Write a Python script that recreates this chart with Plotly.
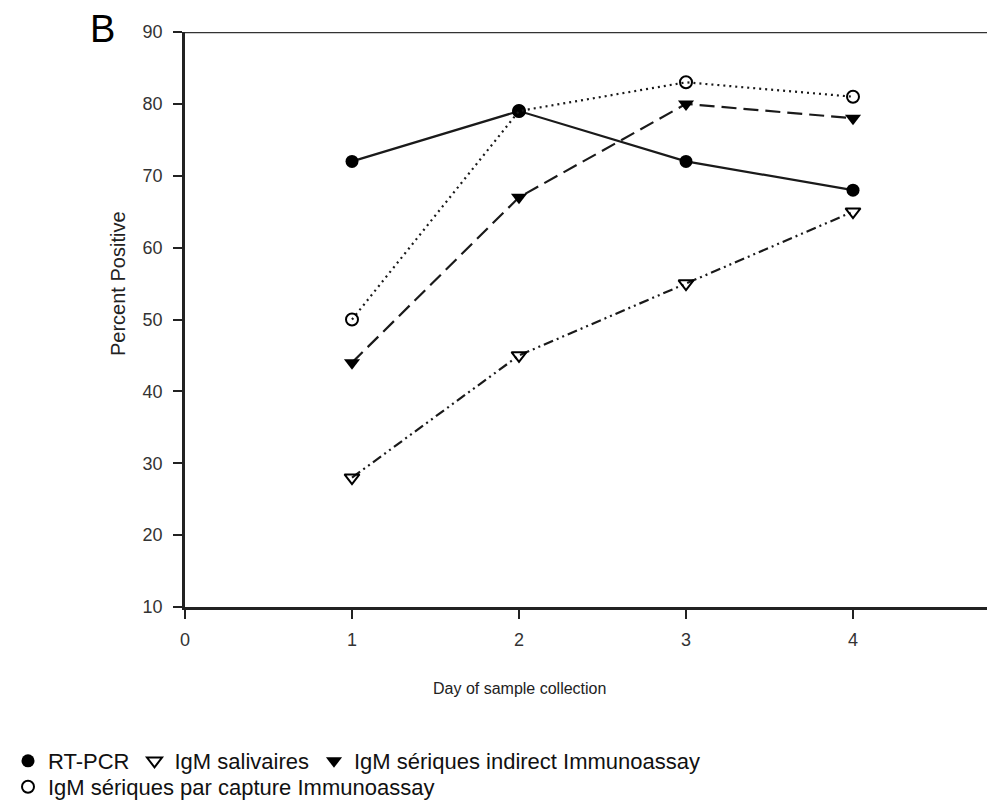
import plotly.graph_objects as go

days = [1, 2, 3, 4]
rt_pcr = [72, 79, 72, 68]
igm_saliva = [28, 45, 55, 65]
igm_indirect = [44, 67, 80, 78]
igm_capture = [50, 79, 83, 81]

x_ticks = [0, 1, 2, 3, 4]
y_ticks = [10, 20, 30, 40, 50, 60, 70, 80, 90]

names = ["RT-PCR", "IgM salivaires", "IgM sériques indirect Immunoassay",
         "IgM sériques par capture Immunoassay"]

W, H = 987, 801
ML, MR, MT, MB = 177, 0, 24, 202
PW, PH = W - ML - MR, H - MT - MB
BOT = H - MB  # y pixel of plot bottom in figure coords

FONT = "Arial, Liberation Sans, sans-serif"

fig = go.Figure()

series = [
    (rt_pcr, names[0], "solid", dict(symbol="circle", size=13, color="black"), "legend"),
    (igm_saliva, names[1], "10px,4px,2px,4px,2px,4px",
     dict(symbol="triangle-down-open", size=13, color="black", line=dict(width=2, color="black")), "legend"),
    (igm_indirect, names[2], "15px,7px",
     dict(symbol="triangle-down", size=14, color="black"), "legend"),
    (igm_capture, names[3], "2px,4px",
     dict(symbol="circle-open", size=12, color="black", line=dict(width=2, color="black")), "legend2"),
]

for vals, nm, dash, mk, lg in series:
    fig.add_trace(go.Scatter(
        x=days, y=vals, name=nm, mode="lines+markers",
        line=dict(color="#1a1a1a", width=2.2, dash=dash),
        marker=mk, showlegend=False, cliponaxis=False))
    fig.add_trace(go.Scatter(
        x=[None], y=[None], name=nm, mode="markers",
        marker=mk, showlegend=True, legend=lg))

# top border line
fig.add_shape(type="line", xref="paper", yref="y", x0=0, x1=1, y0=90, y1=90,
              line=dict(color="#333", width=2.5))

fig.update_xaxes(range=[0, PW / 167], tickvals=x_ticks, ticktext=[str(v) for v in x_ticks],
                 showline=True, linecolor="#222", linewidth=2.5,
                 ticks="outside", ticklen=9, tickwidth=2, tickcolor="#222",
                 showgrid=False, zeroline=False, ticklabelstandoff=6,
                 tickfont=dict(family=FONT, size=18, color="#333"))
fig.update_yaxes(range=[10, 90], tickvals=y_ticks,
                 showline=True, linecolor="#222", linewidth=2.5,
                 ticks="outside", ticklen=9, tickwidth=2, tickcolor="#222",
                 showgrid=False, zeroline=False, ticklabelstandoff=7,
                 tickfont=dict(family=FONT, size=18, color="#333"))

fig.add_annotation(text="Percent Positive", x=(110 - ML) / PW, xref="paper",
                   y=(BOT - 276) / PH, yref="paper", textangle=-90,
                   xanchor="center", yanchor="middle",
                   showarrow=False, font=dict(family=FONT, size=20, color="#222"))
fig.add_annotation(text="Day of sample collection", x=2, xref="x",
                   y=-(680 - BOT) / PH, yref="paper",
                   xanchor="center", yanchor="middle",
                   showarrow=False, font=dict(family=FONT, size=16, color="#222"))
fig.add_annotation(text="B", x=(94 - ML) / PW, xref="paper",
                   y=(BOT - 21) / PH, yref="paper",
                   xanchor="center", yanchor="middle",
                   showarrow=False, font=dict(family=FONT, size=38, color="black"))

legend_font = dict(family=FONT, size=22, color="#111")
fig.update_layout(
    width=W, height=H,
    margin=dict(l=ML, r=MR, t=MT, b=MB),
    paper_bgcolor="white", plot_bgcolor="white",
    font=dict(family=FONT, color="#111"),
    legend=dict(orientation="h", x=(0 - ML) / PW, xanchor="left",
                y=-(753 - BOT) / PH, yanchor="middle",
                font=legend_font, bgcolor="rgba(0,0,0,0)"),
    legend2=dict(orientation="h", x=(0 - ML) / PW, xanchor="left",
                 y=-(779 - BOT) / PH, yanchor="middle",
                 font=legend_font, bgcolor="rgba(0,0,0,0)"),
)

fig.write_html("out.html")
